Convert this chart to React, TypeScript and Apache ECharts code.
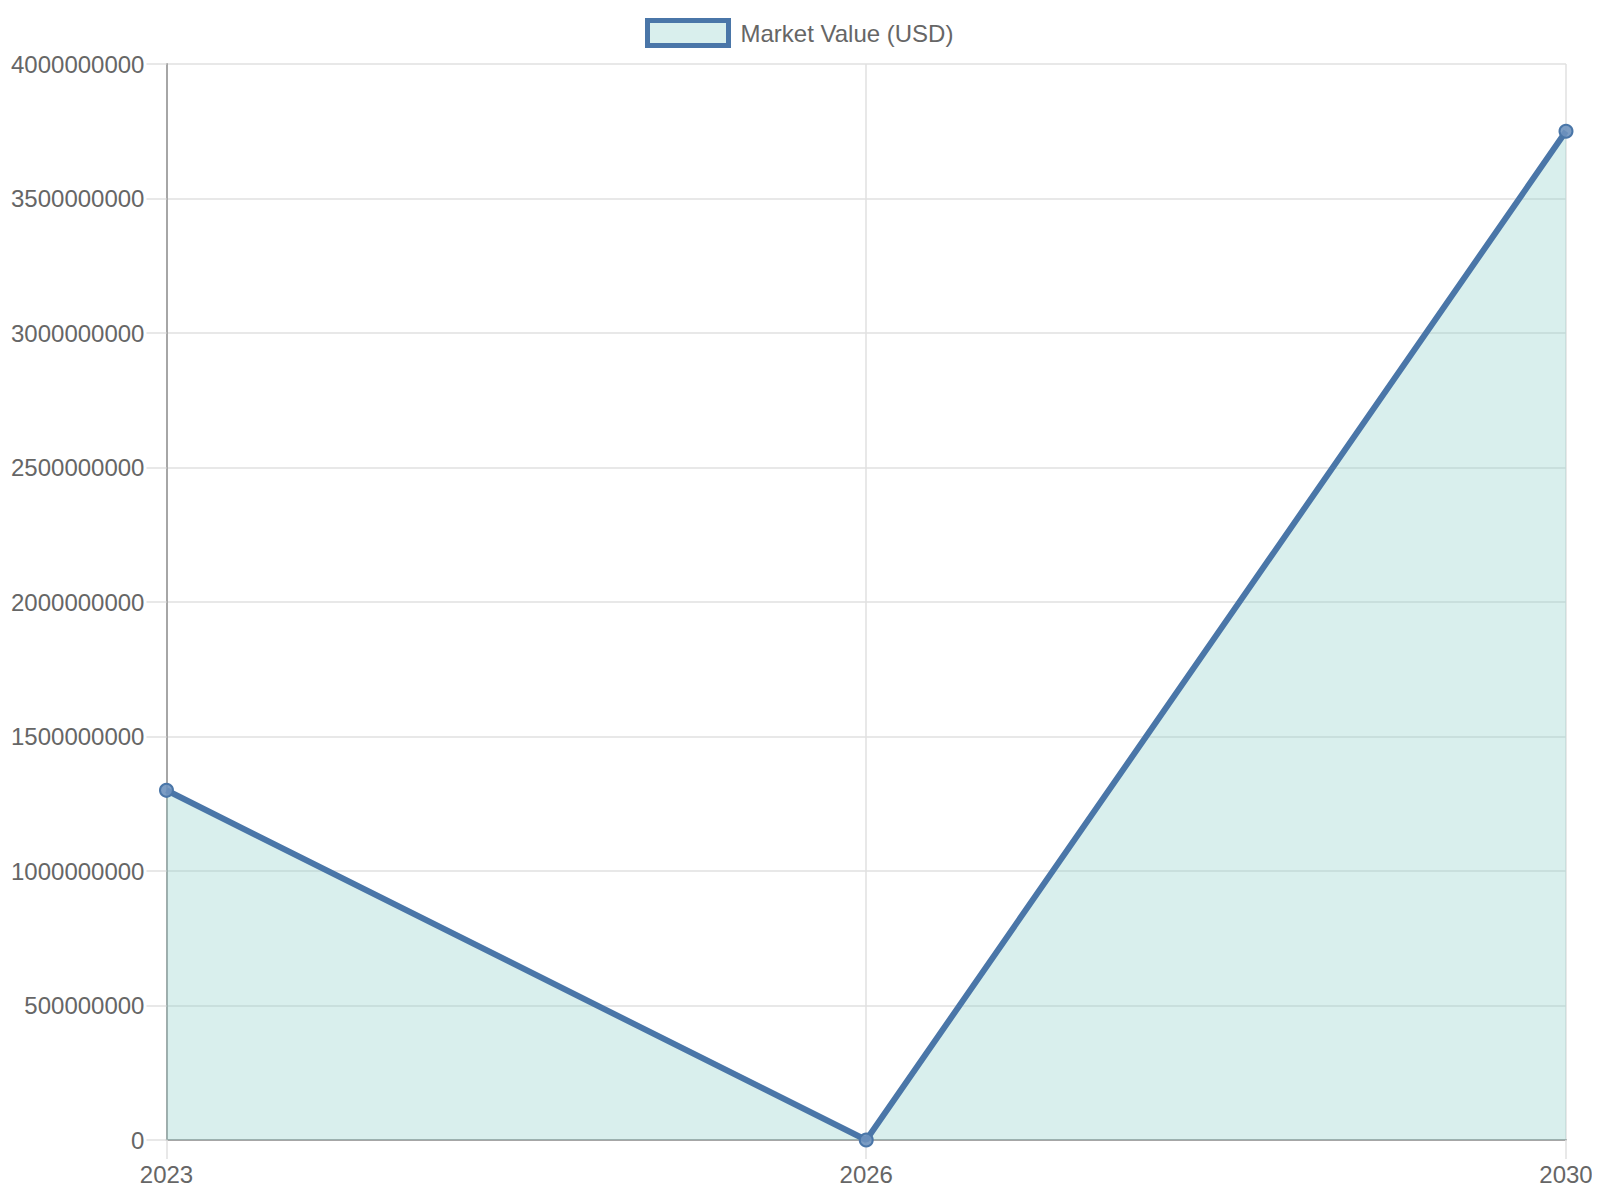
import React, { useEffect, useRef } from 'react';
import * as echarts from 'echarts';

const years = ['2023', '2026', '2030'];
const marketValue = [1300000000, 0, 3750000000];
const seriesName = 'Market Value (USD)';

const LINE = '#4a76a8';
const GRID = '#e1e1e1';
const AXIS = '#a6a6a6';
const TEXT = '#666666';
const FONT = '"Liberation Sans", Arial, Helvetica, sans-serif';

const MarketChart = () => {
  const ref = useRef<HTMLDivElement>(null);

  useEffect(() => {
    if (!ref.current) return;
    const chart = echarts.init(ref.current, null, { renderer: 'svg' });

    const option: echarts.EChartsOption = {
      animation: false,
      textStyle: { fontFamily: FONT },
      legend: {
        left: 632,
        top: 5,
        itemWidth: 81,
        itemHeight: 25,
        itemGap: 10,
        data: [
          {
            name: seriesName,
            icon: 'rect',
            itemStyle: {
              color: 'rgba(128,203,196,0.3)',
              borderColor: LINE,
              borderWidth: 5,
            },
          },
        ],
        textStyle: {
          color: TEXT,
          fontSize: 24,
          fontFamily: FONT,
          padding: [0, 0, 0, 7],
        },
      },
      grid: { left: 155, right: 34, top: 56, bottom: 52 },
      xAxis: {
        type: 'category',
        data: years,
        boundaryGap: false,
        axisLine: { show: true, lineStyle: { color: AXIS, width: 2 } },
        axisTick: { show: true, length: 19, lineStyle: { color: GRID, width: 1.5 } },
        axisLabel: { color: TEXT, fontSize: 24, fontFamily: FONT, margin: 22 },
        splitLine: { show: true, lineStyle: { color: GRID, width: 1.5 } },
      },
      yAxis: {
        type: 'value',
        min: 0,
        max: 4000000000,
        interval: 500000000,
        axisLine: { show: true, lineStyle: { color: AXIS, width: 2 } },
        axisTick: { show: true, length: 20, lineStyle: { color: GRID, width: 1.5 } },
        axisLabel: {
          color: TEXT,
          fontSize: 24,
          fontFamily: FONT,
          margin: 22,
          formatter: (v: number) => String(v),
        },
        splitLine: { show: true, lineStyle: { color: GRID, width: 1.5 } },
      },
      series: [
        {
          name: seriesName,
          type: 'line',
          data: marketValue,
          symbol: 'circle',
          symbolSize: 13,
          showAllSymbol: true,
          lineStyle: { color: LINE, width: 6 },
          itemStyle: { color: 'rgba(110,146,190,0.9)', borderColor: LINE, borderWidth: 2 },
          areaStyle: { color: 'rgba(128,203,196,0.3)', opacity: 1 },
        },
      ],
    };
    chart.setOption(option);

    return () => {
      chart.dispose();
    };
  }, []);

  return <div ref={ref} style={{ width: '1592px', height: '1184px' }} />;
};

export default function App() {
  return <MarketChart />;
}
